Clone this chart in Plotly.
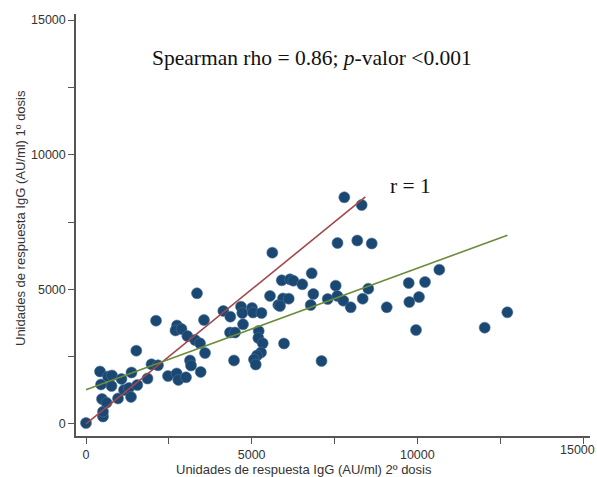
import plotly.graph_objects as go

# Scatter data: IgG units (AU/ml) after 2nd dose (x) vs after 1st dose (y)
dose2 = [0, 513, 513, 483, 619, 966, 423, 453, 664, 785, 770, 1071, 1373, 1147, 1298,
         1358, 1548, 1518, 1856, 1977, 2173, 2475, 2737, 2786, 3018, 2113, 2747, 2701,
         2882, 3350, 3561, 3057, 3290, 3441, 3592, 3139, 3169, 3462, 4144, 4355, 4678,
         4717, 5010, 5040, 5297, 4739, 4346, 4497, 5212, 5200, 5333, 5282, 5161, 4467,
         5070, 5122, 5553, 5804, 5946, 5623, 5907, 6157, 6257, 6812, 6528, 7536, 6860,
         6118, 5855, 6782, 7295, 7585, 7766, 7989, 8351, 8520, 9076, 5976, 7108, 7796,
         8321, 7591, 8188, 8623, 9740, 10232, 10663, 10050, 9758, 9960, 12033, 12716]
dose1 = [37, 278, 457, 928, 791, 947, 1949, 1467, 1764, 1801, 1411, 1671, 1912, 1262, 1337,
         1003, 1448, 2722, 1689, 2217, 2179, 1782, 1875, 1634, 1734, 3835, 3657, 3472,
         3527, 4853, 3861, 3267, 3119, 2996, 2636, 2358, 2172, 1931, 4196, 3984, 4355,
         4121, 4307, 4140, 4121, 3702, 3397, 3397, 3453, 3193, 2996, 2655, 2543, 2358,
         2395, 2209, 4753, 4418, 4660, 6360, 5335, 5372, 5320, 5595, 5187, 5135, 4827,
         4652, 4381, 4418, 4641, 4753, 4578, 4333, 4652, 5024, 4333, 2989, 2339, 8417,
         8131, 6720, 6813, 6702, 5235, 5272, 5729, 4715, 4530, 3490, 3576, 4147]

# Reference line r = 1 and linear fit
identity_x = [0, 8430]
identity_y = [0, 8430]
fit_x = [0, 12720]
fit_y = [1270, 7010]

tick_vals = [0, 2500, 5000, 7500, 10000, 12500, 15000]
tick_text = ["0", "", "5000", "", "10000", "", "15000"]
x_tick_text = ["0", "", "5000", "", "10000", "", ""]  # last label drawn separately (it overflows)

x_title = "Unidades de respuesta IgG (AU/ml) 2º dosis"
y_title = "Unidades de respuesta IgG (AU/ml) 1º dosis"

fig = go.Figure()
fig.add_trace(go.Scatter(x=dose2, y=dose1, mode="markers",
                         marker=dict(size=11, color="#1a4873", line=dict(width=0.6, color="#4a7096")),
                         showlegend=False, hoverinfo="x+y"))
fig.add_trace(go.Scatter(x=identity_x, y=identity_y, mode="lines",
                         line=dict(color="#a4464b", width=1.6), showlegend=False))
fig.add_trace(go.Scatter(x=fit_x, y=fit_y, mode="lines",
                         line=dict(color="#6b8c3a", width=1.6), showlegend=False))

tick_font = dict(family="Liberation Sans, Arial, sans-serif", size=12.5, color="#333333")
title_font = dict(family="Liberation Sans, Arial, sans-serif", size=13, color="#333333")

fig.update_xaxes(range=[-302, 15211], tickvals=tick_vals, ticktext=x_tick_text,
                 showgrid=False, zeroline=False, showline=True, linecolor="#555555", linewidth=1.5,
                 ticks="outside", ticklen=6, tickcolor="#555555", tickwidth=1.2,
                 tickfont=tick_font)
fig.update_yaxes(range=[-446, 15223], tickvals=tick_vals, ticktext=tick_text,
                 showgrid=False, zeroline=False, showline=True, linecolor="#555555", linewidth=1.5,
                 ticks="outside", ticklen=6, tickcolor="#555555", tickwidth=1.2,
                 tickfont=tick_font)

serif = dict(family="Liberation Serif, Times New Roman, serif", size=21.5, color="#111111")

W, H = 597, 477
l, r, t, b = 76, 7, 14, 41
pw, ph = W - l - r, H - t - b

fig.update_layout(
    width=W, height=H,
    margin=dict(l=l, r=r, t=t, b=b),
    plot_bgcolor="white", paper_bgcolor="white",
)
fig.add_annotation(x=6821, y=13589, xref="x", yref="y", showarrow=False,
                   text="Spearman rho = 0.86; <i>p</i>-valor &lt;0.001", font=serif)
fig.add_annotation(x=9779, y=8837, xref="x", yref="y", showarrow=False,
                   text="r = 1", font=serif)
fig.add_annotation(x=(597 - l) / pw, y=-(450 - (H - b)) / ph, xref="paper", yref="paper",
                   showarrow=False, text=tick_text[-1], font=tick_font,
                   xanchor="right", yanchor="middle")
fig.add_annotation(x=(304 - l) / pw, y=-(469 - (H - b)) / ph, xref="paper", yref="paper",
                   showarrow=False, text=x_title, font=title_font,
                   xanchor="center", yanchor="middle")
fig.add_annotation(x=(20 - l) / pw, y=((H - b) - 218) / ph, xref="paper", yref="paper",
                   showarrow=False, textangle=-90, text=y_title, font=title_font,
                   xanchor="center", yanchor="middle")

fig.write_html("out.html")
